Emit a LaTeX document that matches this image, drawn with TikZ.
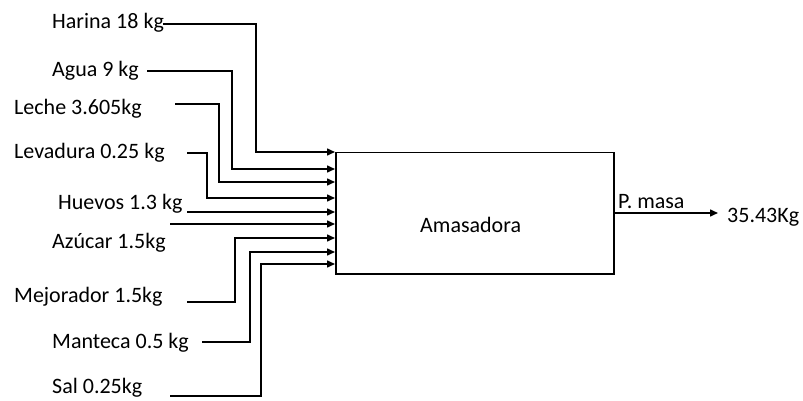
\documentclass[tikz,border=0pt]{standalone}
\usepackage{fontspec}
\setmainfont{Carlito}
\usetikzlibrary{shapes,arrows,arrows.meta}
\tikzstyle{arrow} = [line width=1.5pt,-{Triangle[length=8pt,width=7pt]}]
\tikzstyle{txt} = [anchor=base west, inner sep=0pt, font=\fontsize{22}{24}\selectfont]

\begin{document}
\begin{tikzpicture}[x=1pt,y=-1pt]
        \useasboundingbox (0,0) rectangle (803,401);

        \node (10) [rectangle, anchor=north west, minimum width=278pt, minimum height=121pt, draw=black, line width=1.5pt] at (335,152) {};
        \node (13) [txt] at (420,232) {Amasadora};

        \node (1) [txt] at (52,29) {Harina 18 kg};
        \node (2) [txt] at (52,77) {Agua 9 kg};
        \node (3) [txt] at (14,115) {Leche 3.605kg};
        \node (4) [txt] at (14,158) {Levadura 0.25 kg};
        \node (5) [txt] at (58,209) {Huevos 1.3 kg};
        \node (6) [txt] at (52,248) {Azúcar 1.5kg};
        \node (7) [txt] at (14,302) {Mejorador 1.5kg};
        \node (8) [txt] at (52,348) {Manteca 0.5 kg};
        \node (9) [txt] at (52,393) {Sal 0.25kg};

        \coordinate (s1) at (163,24);
        \coordinate (s2) at (147,71);
        \coordinate (s3) at (175,104);
        \coordinate (s4) at (187,153);
        \coordinate (s5) at (187,212);
        \coordinate (s6) at (170,224);
        \coordinate (s7) at (187,302);
        \coordinate (s8) at (202,342);
        \coordinate (s9) at (170,396);

        \draw[arrow] (s1) -| (256,152) -- (10.west |- 0,152);
        \draw[arrow] (s2) -| (232,169) -- (10.west |- 0,169);
        \draw[arrow] (s3) -| (219,182) -- (10.west |- 0,182);
        \draw[arrow] (s4) -| (207,198) -- (10.west |- 0,198);
        \draw[arrow] (s5) -- (10.west |- s5);
        \draw[arrow] (s6) -- (10.west |- s6);
        \draw[arrow] (s7) -| (235,238) -- (10.west |- 0,238);
        \draw[arrow] (s8) -| (250,252) -- (10.west |- 0,252);
        \draw[arrow] (s9) -| (261,264) -- (10.west |- 0,264);

        \node (12) [txt] at (618,208) {P. masa};
        \node (11) [txt] at (727,222) {35.43Kg};
        \coordinate (e) at (718,213);
        \draw[arrow] (10.east |- e) -- (e);
    \end{tikzpicture}
\end{document}
